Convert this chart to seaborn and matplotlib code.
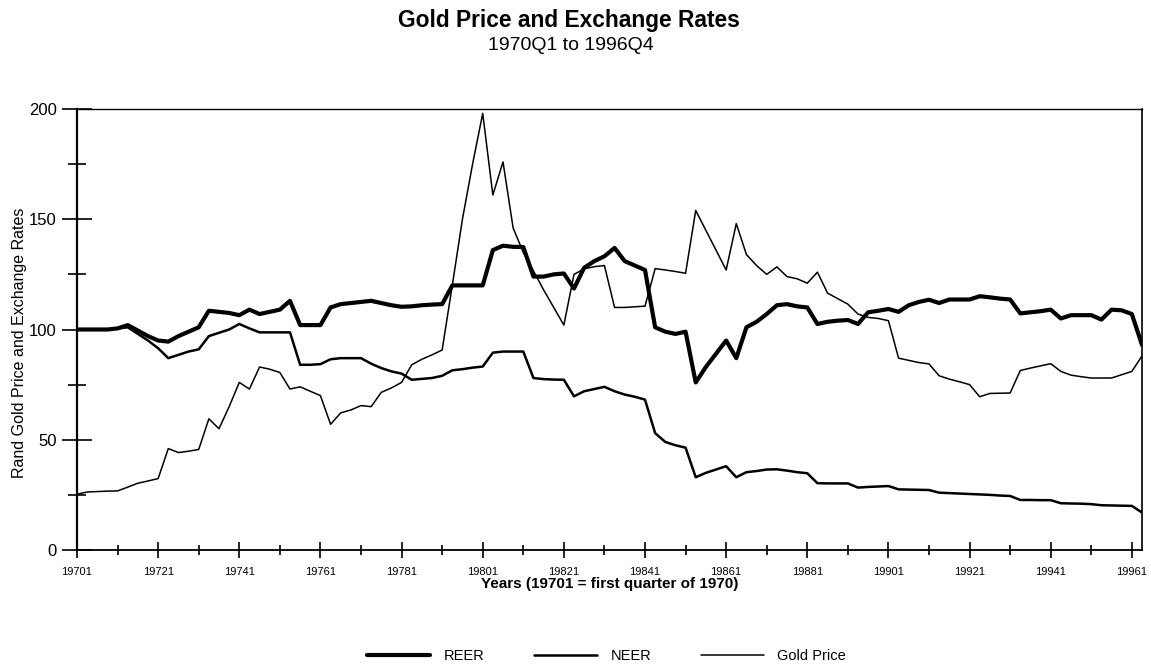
import numpy as np
import pandas as pd
import matplotlib
matplotlib.use("Agg")
import matplotlib.pyplot as plt
from matplotlib.ticker import FixedLocator, MultipleLocator
import seaborn as sns

# quarterly values, 1970Q1 onwards
reer = [100, 100, 100, 100, 100.5, 102, 99.5, 97, 95, 94.5,
        97, 99, 101, 108.5, 108, 107.5, 106.5, 109, 107, 108,
        109, 113, 102, 102, 102, 110, 111.5, 112, 112.5, 113,
        112, 111, 110.3, 110.5, 111, 111.3, 111.5, 120, 120, 120,
        120, 136, 138, 137.5, 137.4, 124, 124, 125, 125.4, 118.6,
        128, 131, 133.2, 137, 131, 129, 127, 101, 99, 98,
        99, 76, 83, 89, 95, 87, 101, 103.5, 107, 111,
        111.5, 110.5, 110, 102.5, 103.5, 104, 104.3, 102.5, 107.8, 108.5,
        109.3, 108, 111, 112.5, 113.5, 112, 113.6, 113.6, 113.6, 115.1,
        114.6, 114, 113.6, 107.3, 107.8, 108.3, 109, 105, 106.5, 106.5,
        106.5, 104.5, 109, 108.7, 107, 93]

neer = [100, 100, 100, 100, 100.5, 101, 98, 95, 91.5, 87,
        88.5, 90, 91, 97, 98.5, 100, 102.5, 100.5, 98.7, 98.7,
        98.7, 98.7, 84, 84, 84.3, 86.5, 87, 87, 87, 84.5,
        82.5, 81, 80, 77.2, 77.6, 78, 79, 81.5, 82, 82.7,
        83.2, 89.5, 90, 90, 90, 78, 77.5, 77.3, 77.2, 69.7,
        72, 73, 74, 72, 70.5, 69.5, 68.2, 53, 49, 47.5,
        46.4, 33, 35, 36.5, 38, 33, 35.3, 35.8, 36.5, 36.6,
        36, 35.3, 34.8, 30.3, 30.2, 30.2, 30.2, 28.3, 28.6, 28.8,
        29, 27.5, 27.4, 27.3, 27.2, 26, 25.8, 25.6, 25.4, 25.2,
        25, 24.7, 24.5, 22.7, 22.7, 22.6, 22.6, 21.2, 21.1, 21,
        20.8, 20.3, 20.2, 20.1, 20, 17]

gold = [25.3, 26.3, 26.5, 26.7, 26.8, 28.5, 30.3, 31.3, 32.4, 46,
        44.2, 44.8, 45.6, 59.5, 55, 65, 76, 73, 83, 82,
        80.5, 73, 74, 72, 70, 57, 62.2, 63.5, 65.5, 65,
        71.5, 73.5, 76, 84, 86.5, 88.5, 90.7, 120, 150, 175,
        198, 161, 176, 146, 135, 126.6, 118, 110, 102, 125,
        127.5, 128.5, 129, 110, 110, 110.3, 110.6, 127.6, 127, 126.3,
        125.5, 154, 145, 136, 127, 148, 134, 129, 125, 128.4,
        124, 123, 121, 126, 116.5, 114, 111.5, 107, 105.5, 105,
        104, 87, 86, 85, 84.4, 79, 77.5, 76.3, 75, 69.5,
        71, 71.1, 71.2, 81.4, 82.5, 83.5, 84.5, 81, 79.3, 78.6,
        78, 78, 78, 79.5, 81, 88]

tick_labels = ["19701", "19721", "19741", "19761", "19781", "19801", "19821",
               "19841", "19861", "19881", "19901", "19921", "19941", "19961"]

df = pd.DataFrame({"quarter": np.arange(len(reer)), "REER": reer,
                   "NEER": neer, "Gold Price": gold})

sns.set_theme(style="ticks")
plt.rcParams["font.family"] = ["Liberation Sans", "DejaVu Sans"]
plt.rcParams["text.color"] = "black"
plt.rcParams["axes.labelcolor"] = "black"
plt.rcParams["xtick.color"] = "black"
plt.rcParams["ytick.color"] = "black"

fig, ax = plt.subplots(figsize=(11.51, 6.67), dpi=100)
fig.subplots_adjust(left=77 / 1151, right=1142 / 1151,
                    top=1 - 109 / 667, bottom=1 - 550 / 667)

for col, lw in [("REER", 3.0), ("NEER", 1.8), ("Gold Price", 1.1)]:
    sns.lineplot(data=df, x="quarter", y=col, color="black", linewidth=lw,
                 ax=ax, label=col)

handles, labels = ax.get_legend_handles_labels()
ax.get_legend().remove()
fig.legend(handles, labels, loc="center", bbox_to_anchor=(0.527, 0.016),
           ncol=3, frameon=False, fontsize=10.5, handlelength=4.3,
           handletextpad=0.95, columnspacing=3.4)

ax.set_xlim(0, len(reer) - 1)
ax.set_ylim(0, 200)
ax.xaxis.set_major_locator(FixedLocator(np.arange(0, len(reer), 8)))
ax.xaxis.set_minor_locator(FixedLocator(np.arange(4, len(reer), 8)))
ax.set_xticklabels(tick_labels)
ax.yaxis.set_major_locator(MultipleLocator(50))
ax.yaxis.set_minor_locator(MultipleLocator(25))

ax.tick_params(axis="x", which="major", direction="inout", length=12,
               width=1.2, labelsize=8, pad=6.5)
ax.tick_params(axis="x", which="minor", direction="inout", length=7,
               width=1.2)
ax.tick_params(axis="y", which="major", direction="inout", length=21,
               width=1.2, labelsize=12, pad=4)
ax.tick_params(axis="y", which="minor", direction="inout", length=13.5,
               width=1.2)

for side, w in [("left", 1.6), ("bottom", 1.3), ("top", 1.0), ("right", 1.2)]:
    ax.spines[side].set_color("black")
    ax.spines[side].set_linewidth(w)

ax.set_xlabel("Years (19701 = first quarter of 1970)", fontsize=11,
              fontweight="bold")
ax.xaxis.set_label_coords(0.5, -0.062)
ax.set_ylabel("Rand Gold Price and Exchange Rates", fontsize=11.5)
ax.yaxis.set_label_coords(-0.047, 0.47)

fig.text(0.494, 1 - 20 / 667, "Gold Price and Exchange Rates", ha="center",
         va="center", fontsize=16.4, fontweight="bold")
fig.text(0.496, 1 - 45 / 667, "1970Q1 to 1996Q4", ha="center", va="center",
         fontsize=14)

fig.savefig("out.png", dpi=100)
